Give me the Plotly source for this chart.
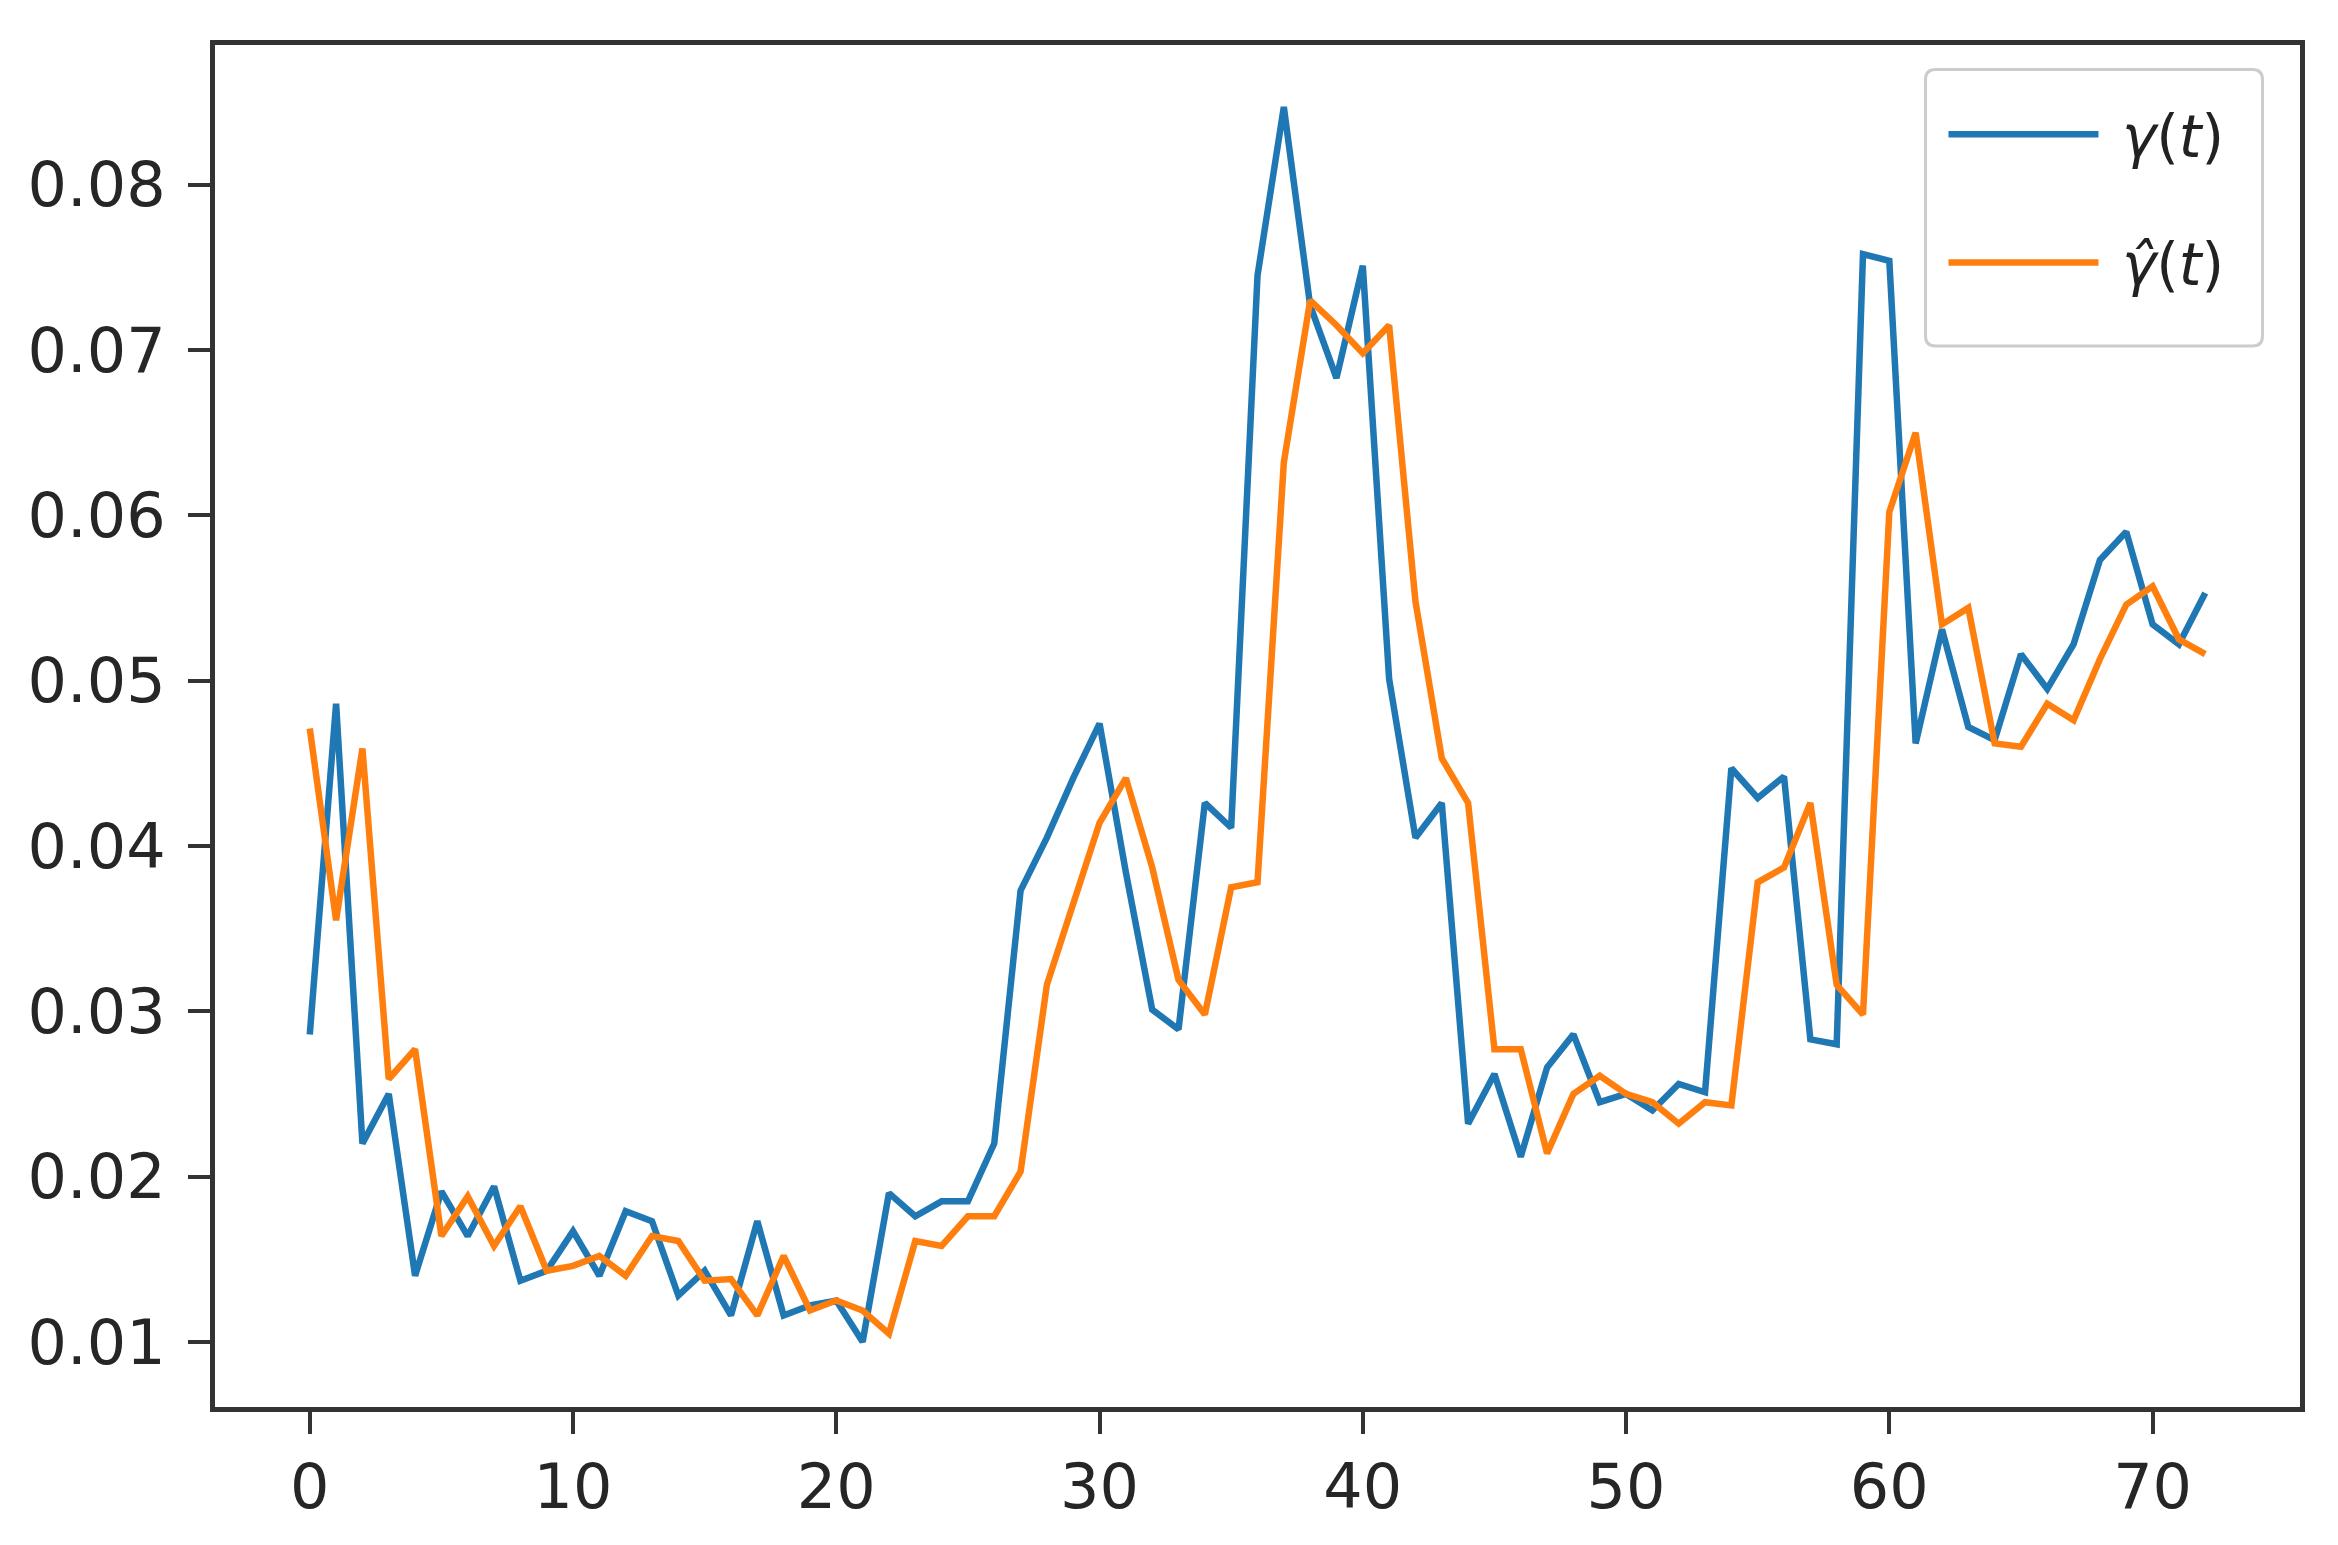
import plotly.graph_objects as go

t = list(range(73))

gamma = [
    0.0286, 0.0486, 0.0220, 0.0250, 0.0140, 0.0191, 0.0164, 0.0194, 0.0137, 0.0143,
    0.0167, 0.0140, 0.0179, 0.0173, 0.0128, 0.0143, 0.0116, 0.0173, 0.0116, 0.0122,
    0.0125, 0.0100, 0.0190, 0.0176, 0.0185, 0.0185, 0.0220, 0.0373, 0.0405, 0.0441,
    0.0474, 0.0384, 0.0301, 0.0289, 0.0426, 0.0411, 0.0745, 0.0847, 0.0727, 0.0683,
    0.0751, 0.0501, 0.0405, 0.0426, 0.0232, 0.0262, 0.0212, 0.0266, 0.0286, 0.0245,
    0.0250, 0.0240, 0.0256, 0.0251, 0.0447, 0.0429, 0.0442, 0.0283, 0.0280, 0.0758,
    0.0754, 0.0462, 0.0531, 0.0472, 0.0464, 0.0516, 0.0495, 0.0522, 0.0573, 0.0590,
    0.0534, 0.0522, 0.0553,
]

gamma_hat = [
    0.0471, 0.0355, 0.0459, 0.0259, 0.0277, 0.0164, 0.0188, 0.0158, 0.0182, 0.0143,
    0.0146, 0.0152, 0.0140, 0.0164, 0.0161, 0.0137, 0.0138, 0.0116, 0.0152, 0.0119,
    0.0125, 0.0119, 0.0105, 0.0161, 0.0158, 0.0176, 0.0176, 0.0203, 0.0316, 0.0364,
    0.0414, 0.0441, 0.0387, 0.0319, 0.0298, 0.0375, 0.0378, 0.0632, 0.0730, 0.0715,
    0.0698, 0.0715, 0.0548, 0.0453, 0.0426, 0.0277, 0.0277, 0.0214, 0.0250, 0.0261,
    0.0250, 0.0245, 0.0232, 0.0245, 0.0243, 0.0378, 0.0387, 0.0426, 0.0316, 0.0298,
    0.0602, 0.0650, 0.0534, 0.0544, 0.0462, 0.0460, 0.0486, 0.0476, 0.0513, 0.0546,
    0.0557, 0.0525, 0.0516,
]

x_ticks = [0, 10, 20, 30, 40, 50, 60, 70]
y_ticks = [0.01, 0.02, 0.03, 0.04, 0.05, 0.06, 0.07, 0.08]

FONT = "DejaVu Sans"
DARK = "#333333"
NBSP = "\u00a0"

fig = go.Figure()
fig.add_trace(
    go.Scatter(
        x=t, y=gamma, mode="lines", name=NBSP + "<i>γ</i>(<i>t</i>)",
        line={"color": "#1f77b4", "width": 6.5}, legendgroup="a",
    )
)
fig.add_trace(
    go.Scatter(
        x=t, y=gamma_hat, mode="lines", name=NBSP + "<i>γ̂</i>(<i>t</i>)",
        line={"color": "#ff7f0e", "width": 6.5}, legendgroup="b",
    )
)

axis_common = {
    "showgrid": False,
    "zeroline": False,
    "showline": True,
    "linecolor": DARK,
    "linewidth": 5,
    "mirror": True,
    "ticks": "outside",
    "ticklen": 22,
    "tickwidth": 4,
    "tickcolor": DARK,
    "tickfont": {"family": FONT, "size": 62, "color": "#262626"},
}

# legend frame (rounded, light grey), drawn in paper coordinates
x0, x1, y0, y1 = 0.8204, 0.982, 0.779, 0.982
rx, ry = 10 / 2085, 10 / 1362
frame = (
    f"M{x0 + rx},{y1} L{x1 - rx},{y1} Q{x1},{y1} {x1},{y1 - ry} "
    f"L{x1},{y0 + ry} Q{x1},{y0} {x1 - rx},{y0} "
    f"L{x0 + rx},{y0} Q{x0},{y0} {x0},{y0 + ry} "
    f"L{x0},{y1 - ry} Q{x0},{y1} {x0 + rx},{y1} Z"
)

fig.update_layout(
    width=2338,
    height=1545,
    plot_bgcolor="white",
    paper_bgcolor="white",
    margin={"l": 207, "r": 46, "t": 37, "b": 146, "pad": 0},
    xaxis={**axis_common, "range": [-3.6, 75.6], "tickvals": x_ticks},
    yaxis={
        **axis_common,
        "range": [0.00606, 0.08845],
        "tickvals": y_ticks,
        "tickformat": ".2f",
        "ticklabelstandoff": 10,
    },
    shapes=[
        {
            "type": "path",
            "path": frame,
            "xref": "paper",
            "yref": "paper",
            "layer": "above",
            "fillcolor": "rgba(255,255,255,0.9)",
            "line": {"color": "#cccccc", "width": 3},
        }
    ],
    showlegend=True,
    legend={
        "x": 0.829,
        "y": 0.967,
        "xanchor": "left",
        "yanchor": "top",
        "bgcolor": "rgba(0,0,0,0)",
        "borderwidth": 0,
        "font": {"family": FONT, "size": 58, "color": "#222222"},
        "itemwidth": 150,
        "tracegroupgap": 50,
        "traceorder": "grouped",
    },
)

fig.write_html("out.html")
